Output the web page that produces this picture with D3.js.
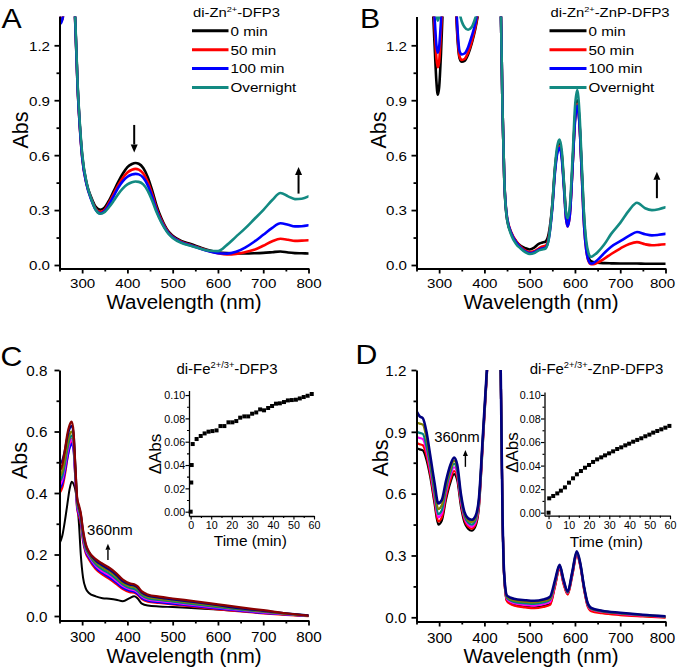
<!DOCTYPE html>
<html><head><meta charset="utf-8">
<script src="https://cdn.jsdelivr.net/npm/d3@7/dist/d3.min.js"></script>
<style>
body{margin:0;background:#fff}
svg{display:block}
text{font-family:"Liberation Sans",Arial,Helvetica,sans-serif;fill:#000}
</style></head><body>
<script>
// ---------------- DATA ----------------
// Panel A: di-Zn2+-DFP3
const aWavelength = [250,253,257,262,270,280,285,290,295,300,310,320,330,340,350,360,370,380,390,400,410,418,425,435,445,455,465,475,490,500,520,540,560,580,600,620,640,660,680,700,720,738,755,770,785,800];
const aAbs0min = [1.36,1.335,1.35,1.45,1.6,1.55,1.32,0.98,0.76,0.6,0.445,0.37,0.318,0.302,0.315,0.355,0.405,0.455,0.5,0.535,0.552,0.557,0.553,0.53,0.48,0.405,0.32,0.255,0.185,0.16,0.13,0.115,0.097,0.08,0.07,0.065,0.063,0.063,0.064,0.066,0.07,0.074,0.068,0.065,0.064,0.063];
const aAbs50min = [1.36,1.33,1.35,1.45,1.6,1.55,1.31,0.97,0.75,0.59,0.44,0.362,0.308,0.29,0.303,0.343,0.39,0.437,0.476,0.505,0.52,0.525,0.521,0.5,0.455,0.385,0.305,0.245,0.18,0.155,0.126,0.11,0.093,0.077,0.065,0.058,0.061,0.07,0.083,0.105,0.13,0.143,0.138,0.132,0.133,0.135];
const aAbs100min = [1.36,1.32,1.35,1.45,1.6,1.55,1.31,0.97,0.75,0.59,0.438,0.358,0.302,0.282,0.295,0.333,0.378,0.423,0.458,0.482,0.494,0.498,0.495,0.477,0.435,0.37,0.295,0.237,0.176,0.151,0.123,0.107,0.09,0.075,0.064,0.062,0.072,0.095,0.127,0.165,0.203,0.228,0.22,0.211,0.212,0.217];
const aAbsOvernight = [1.38,1.37,1.38,1.45,1.6,1.56,1.33,0.99,0.77,0.61,0.448,0.362,0.302,0.28,0.29,0.318,0.352,0.388,0.418,0.44,0.452,0.456,0.454,0.44,0.405,0.35,0.285,0.232,0.172,0.148,0.12,0.105,0.09,0.078,0.076,0.11,0.155,0.2,0.25,0.3,0.355,0.393,0.375,0.36,0.362,0.375];

// Panel B: di-Zn2+-ZnP-DFP3
const bWavelength = [250,270,285,290,294,297,300,304,308,315,330,337,341,345,350,356,364,372,380,388,400,420,434,437,440,444,450,460,470,480,490,500,510,520,527,535,542,550,556,561,566,571,576,580,584,589,595,600,605,610,615,620,625,630,635,640,650,665,680,700,720,737,755,770,785,800];
const bAbs0min = [1.6,1.7,1.45,1.2,1.0,0.93,0.97,1.15,1.4,1.7,1.6,1.4,1.22,1.13,1.11,1.115,1.15,1.21,1.29,1.4,1.6,1.8,1.6,1.3,0.85,0.45,0.25,0.17,0.13,0.105,0.092,0.085,0.095,0.115,0.122,0.128,0.17,0.33,0.53,0.63,0.66,0.6,0.43,0.29,0.235,0.3,0.56,0.8,0.9,0.78,0.52,0.26,0.1,0.04,0.022,0.016,0.012,0.01,0.009,0.008,0.008,0.008,0.007,0.007,0.007,0.007];
const bAbs50min = [1.6,1.7,1.5,1.3,1.13,1.08,1.11,1.27,1.45,1.7,1.6,1.42,1.24,1.14,1.12,1.125,1.16,1.22,1.3,1.41,1.6,1.8,1.6,1.3,0.85,0.46,0.26,0.175,0.13,0.1,0.08,0.07,0.075,0.09,0.1,0.105,0.15,0.32,0.52,0.62,0.65,0.59,0.42,0.26,0.21,0.28,0.55,0.79,0.88,0.77,0.5,0.22,0.08,0.02,0.005,0.005,0.013,0.035,0.06,0.09,0.115,0.125,0.113,0.108,0.11,0.113];
const bAbs100min = [1.6,1.7,1.55,1.35,1.2,1.16,1.19,1.33,1.5,1.7,1.6,1.45,1.27,1.17,1.15,1.155,1.19,1.25,1.32,1.43,1.6,1.8,1.6,1.3,0.85,0.46,0.26,0.17,0.125,0.095,0.075,0.065,0.07,0.083,0.09,0.095,0.14,0.31,0.51,0.61,0.64,0.58,0.41,0.26,0.21,0.28,0.55,0.78,0.87,0.77,0.5,0.22,0.08,0.025,0.008,0.01,0.028,0.066,0.1,0.13,0.16,0.18,0.168,0.162,0.165,0.17];
const bAbsOvernight = [1.6,1.7,1.6,1.45,1.37,1.335,1.36,1.45,1.55,1.7,1.6,1.52,1.44,1.38,1.33,1.3,1.285,1.3,1.35,1.42,1.6,1.8,1.6,1.3,0.85,0.46,0.25,0.16,0.115,0.09,0.07,0.06,0.065,0.08,0.085,0.09,0.14,0.33,0.54,0.65,0.685,0.62,0.44,0.29,0.255,0.33,0.6,0.86,0.955,0.83,0.55,0.28,0.13,0.065,0.045,0.05,0.07,0.113,0.17,0.23,0.3,0.34,0.31,0.3,0.305,0.315];

// Panel C: di-Fe2+/3+-DFP3
const cWavelength = [250,256,262,267,272,277,281,285,289,293,297,302,308,315,330,345,360,375,390,405,415,422,432,445,470,500,550,600,650,700,750,800];
const cAbsInitial = [0.236,0.26,0.31,0.36,0.41,0.437,0.43,0.41,0.37,0.3,0.2,0.125,0.09,0.075,0.064,0.058,0.056,0.053,0.048,0.058,0.064,0.058,0.04,0.034,0.031,0.029,0.025,0.021,0.016,0.011,0.005,0.0];
const cAbsRed = [0.400,0.418,0.462,0.510,0.552,0.575,0.552,0.455,0.352,0.325,0.305,0.245,0.205,0.185,0.153,0.135,0.121,0.105,0.088,0.078,0.076,0.070,0.055,0.047,0.043,0.038,0.030,0.022,0.015,0.009,0.004,0.000];
const cAbsBlue = [0.412,0.430,0.470,0.512,0.545,0.560,0.540,0.452,0.355,0.330,0.310,0.250,0.210,0.190,0.158,0.140,0.126,0.109,0.092,0.082,0.079,0.073,0.058,0.050,0.045,0.040,0.032,0.024,0.017,0.010,0.005,0.000];
const cAbsMagenta = [0.424,0.442,0.484,0.527,0.560,0.573,0.553,0.462,0.362,0.336,0.315,0.256,0.215,0.195,0.163,0.145,0.132,0.115,0.097,0.087,0.084,0.078,0.063,0.054,0.049,0.044,0.035,0.027,0.019,0.012,0.006,0.001];
const cAbsCyan = [0.436,0.454,0.496,0.540,0.573,0.587,0.567,0.470,0.368,0.342,0.320,0.262,0.220,0.200,0.168,0.151,0.138,0.121,0.102,0.091,0.088,0.082,0.067,0.057,0.052,0.047,0.038,0.029,0.021,0.014,0.007,0.001];
const cAbsOlive = [0.452,0.470,0.512,0.556,0.588,0.600,0.580,0.478,0.374,0.348,0.326,0.268,0.226,0.203,0.175,0.158,0.145,0.128,0.107,0.097,0.094,0.088,0.072,0.062,0.056,0.051,0.042,0.032,0.023,0.015,0.008,0.001];
const cAbsNavy = [0.493,0.505,0.540,0.580,0.608,0.618,0.595,0.485,0.380,0.354,0.330,0.274,0.230,0.207,0.180,0.164,0.151,0.134,0.113,0.102,0.099,0.093,0.076,0.066,0.060,0.054,0.045,0.035,0.025,0.017,0.009,0.002];
const cAbsWine = [0.470,0.490,0.540,0.590,0.620,0.632,0.600,0.490,0.385,0.360,0.335,0.280,0.235,0.210,0.185,0.170,0.157,0.140,0.118,0.106,0.103,0.097,0.080,0.070,0.063,0.057,0.048,0.038,0.028,0.019,0.009,0.001];
// Inset C kinetics at 360 nm
const cTime = [0,0.3,0.5,1.0,2.9,4.9,6.8,8.7,10.6,12.6,14.5,16.4,18.4,20.3,22.2,24.1,26.1,28.0,29.9,31.9,33.8,35.7,37.7,39.6,41.5,43.4,45.4,47.3,49.2,51.2,53.1,55.0,56.9,58.9];
const cDeltaAbs = [0.000,0.025,0.040,0.058,0.0623,0.0649,0.0671,0.0686,0.0691,0.0697,0.0734,0.0734,0.0766,0.0766,0.0777,0.0806,0.0817,0.0817,0.084,0.0851,0.0877,0.0869,0.0889,0.0906,0.0926,0.0929,0.094,0.0954,0.0957,0.096,0.0971,0.0983,0.0994,0.1009];

// Panel D: di-Fe2+/3+-ZnP-DFP3
const dWavelength = [250,257,264,272,280,290,298,306,315,325,333,340,348,356,364,372,380,388,396,404,420,432,436,440,444,450,465,490,510,530,545,556,566,575,584,594,604,612,620,628,636,660,700,750,800];
const dAbsBlack = [0.82,0.815,0.81,0.765,0.685,0.55,0.45,0.47,0.57,0.655,0.695,0.665,0.54,0.46,0.43,0.42,0.44,0.535,0.82,1.12,1.6,1.6,1.2,0.5,0.18,0.08,0.06,0.052,0.048,0.055,0.065,0.155,0.24,0.165,0.115,0.205,0.305,0.25,0.14,0.058,0.035,0.024,0.014,0.007,0.001];
const dAbsRed = [0.845,0.84,0.835,0.785,0.7,0.565,0.465,0.485,0.585,0.67,0.71,0.68,0.555,0.472,0.44,0.43,0.45,0.545,0.83,1.13,1.6,1.6,1.2,0.5,0.18,0.078,0.057,0.048,0.044,0.05,0.06,0.15,0.236,0.16,0.11,0.2,0.3,0.245,0.135,0.053,0.03,0.02,0.011,0.004,-0.002];
const dAbsMagenta = [0.875,0.87,0.865,0.81,0.72,0.585,0.485,0.505,0.605,0.69,0.728,0.697,0.567,0.483,0.45,0.44,0.46,0.555,0.84,1.135,1.6,1.6,1.2,0.5,0.19,0.088,0.068,0.06,0.057,0.064,0.075,0.162,0.245,0.17,0.118,0.21,0.31,0.253,0.143,0.062,0.038,0.027,0.017,0.009,0.002];
const dAbsCyan = [0.9,0.895,0.89,0.83,0.74,0.6,0.5,0.52,0.62,0.705,0.745,0.71,0.578,0.492,0.46,0.45,0.47,0.565,0.85,1.14,1.6,1.6,1.2,0.5,0.19,0.094,0.075,0.068,0.065,0.072,0.085,0.168,0.25,0.175,0.12,0.215,0.314,0.256,0.146,0.065,0.04,0.029,0.019,0.01,0.003];
const dAbsOlive = [0.945,0.94,0.935,0.87,0.765,0.625,0.525,0.545,0.64,0.72,0.76,0.725,0.59,0.5,0.47,0.462,0.48,0.572,0.855,1.145,1.6,1.6,1.2,0.5,0.195,0.1,0.082,0.075,0.072,0.079,0.09,0.172,0.252,0.178,0.122,0.218,0.317,0.258,0.148,0.067,0.042,0.03,0.02,0.011,0.004];
const dAbsNavy = [1.0,0.975,0.966,0.9,0.79,0.65,0.553,0.57,0.66,0.74,0.775,0.74,0.6,0.51,0.48,0.473,0.49,0.58,0.86,1.15,1.6,1.6,1.2,0.5,0.2,0.105,0.09,0.083,0.08,0.086,0.1,0.18,0.255,0.18,0.125,0.22,0.32,0.26,0.15,0.07,0.045,0.032,0.022,0.012,0.005];
// Inset D kinetics at 360 nm
const dTime = [0,0.33,2.3,4.3,6.1,8.1,10.1,12.1,14.0,16.0,18.0,20.0,22.0,24.0,26.0,27.9,29.9,31.9,33.9,35.9,37.9,39.8,41.8,43.8,45.8,47.8,49.8,51.7,53.7,55.7,57.7,59.7];
const dDeltaAbs = [0.000,0.0122,0.0142,0.0164,0.0187,0.0215,0.0255,0.0292,0.0326,0.0354,0.0382,0.0405,0.0431,0.0453,0.047,0.0487,0.0504,0.0521,0.0541,0.0555,0.0572,0.0586,0.0603,0.0618,0.0632,0.0649,0.0663,0.068,0.0694,0.0708,0.0722,0.0737];

// Axis ticks
const wlMajor = [300,400,500,600,700,800];
const wlMinor = [250,350,450,550,650,750];
const absTicksAB = [0,0.3,0.6,0.9,1.2];
const absMinorAB = [0.15,0.45,0.75,1.05];
const absTicksC = [0,0.2,0.4,0.6,0.8];
const absMinorC = [0.1,0.3,0.5,0.7];
const absTicksD = [0,0.3,0.6,0.9,1.2];
const absMinorD = [0.15,0.45,0.75,1.05];
const timeTicks = [0,10,20,30,40,50,60];
const timeMinor = [5,15,25,35,45,55];
const dAbsTicks = [0,0.02,0.04,0.06,0.08,0.10];
const dAbsMinor = [0.01,0.03,0.05,0.07,0.09];
const legendLabels = ["0 min","50 min","100 min","Overnight"];
const legendColors = ["#000000","#ff0000","#0000ff","#138a82"];

// ---------------- DRAWING ----------------
const svg = d3.select("body").append("svg").attr("width",677).attr("height",668);

function txt(g, x, y, parts, size, o={}){
  const t = g.append("text")
    .attr("transform", `translate(${x},${y})` + (o.rot?` rotate(${o.rot})`:"") + ` scale(${o.sx||1},1)`)
    .attr("font-size", size).attr("text-anchor", o.anchor||"start");
  if(typeof parts === "string") parts=[[parts]];
  let shifted=false;
  parts.forEach(p=>{
    const ts=t.append("tspan").text(p[0]);
    if(p[1]==="sup"){ ts.attr("font-size", size*0.62); if(!shifted){ts.attr("dy", -size*0.4); shifted=true;} }
    else if(shifted){ ts.attr("dy", size*0.4); shifted=false; }
  });
  return t;
}

function axes(g, x, y, L, o){
  const xa = g.append("g").attr("transform",`translate(0,${L.bottom})`);
  xa.call(d3.axisBottom(x).tickValues(o.xMajor).tickSize(o.tMaj).tickSizeOuter(0).tickFormat(o.xFmt));
  xa.append("g").call(d3.axisBottom(x).tickValues(o.xMinor).tickSize(o.tMin).tickSizeOuter(0).tickFormat(""))
    .call(s=>s.select(".domain").remove());
  xa.selectAll(".tick text").attr("y",0).attr("dy",0).attr("font-size",o.fs)
    .attr("transform",d=>`translate(${(o.lastShift&&d===o.xMajor[o.xMajor.length-1])?o.lastShift:0},${o.xOff}) scale(${o.sx},1)`);
  const ya = g.append("g").attr("transform",`translate(${L.left},0)`);
  ya.call(d3.axisLeft(y).tickValues(o.yMajor).tickSize(o.tMaj).tickSizeOuter(0).tickFormat(o.yFmt));
  ya.append("g").call(d3.axisLeft(y).tickValues(o.yMinor).tickSize(o.tMin).tickSizeOuter(0).tickFormat(""))
    .call(s=>s.select(".domain").remove());
  ya.selectAll(".tick text").attr("x",0).attr("dy","0.36em").attr("font-size",o.fs)
    .attr("transform",`translate(${-o.yOff},0) scale(${o.sx},1)`);
  [xa,ya].forEach(a=>{
    a.selectAll(".domain").attr("stroke","#000").attr("stroke-width",o.sw);
    a.selectAll(".tick line").attr("stroke","#000").attr("stroke-width",o.sw*0.9);
    a.attr("font-family",null);
  });
}

function arrow(g, x1,y1,x2,y2, w, hl, hw){
  const dx=x2-x1, dy=y2-y1, len=Math.hypot(dx,dy), ux=dx/len, uy=dy/len;
  const bx=x2-ux*hl, by=y2-uy*hl;
  g.append("line").attr("x1",x1).attr("y1",y1).attr("x2",bx).attr("y2",by).attr("stroke","#000").attr("stroke-width",w);
  g.append("path").attr("d",`M${x2},${y2}L${bx-uy*hw/2},${by+ux*hw/2}L${bx+uy*hw/2},${by-ux*hw/2}Z`).attr("fill","#000");
}

function spectrum(key, L, yDomain, wl, series, o){
  const x = d3.scaleLinear().domain([250,800]).range([L.left,L.right]);
  const y = d3.scaleLinear().domain(yDomain).range([L.bottom,L.top]);
  svg.append("clipPath").attr("id","clip"+key).append("rect")
    .attr("x",L.left).attr("y",L.top).attr("width",L.right-L.left).attr("height",L.bottom-L.top);
  const g = svg.append("g");
  const pg = g.append("g").attr("clip-path",`url(#clip${key})`);
  const line = d3.line().x((d,i)=>x(wl[i])).y(d=>y(d)).curve(d3.curveMonotoneX);
  series.forEach(s=>pg.append("path").attr("d",line(s.v)).attr("fill","none")
    .attr("stroke",s.c).attr("stroke-width",s.w).attr("stroke-linejoin","round").attr("stroke-linecap","round"));
  axes(g,x,y,L,o);
  return {g,x,y};
}

function kinetics(key, L, xDomain, yDomain, t, v){
  const x = d3.scaleLinear().domain(xDomain).range([L.left,L.right]);
  const y = d3.scaleLinear().domain(yDomain).range([L.bottom,L.top]);
  const g = svg.append("g");
  g.selectAll("rect.pt").data(v).join("rect").attr("class","pt")
    .attr("x",(d,i)=>x(t[i])-2).attr("y",d=>y(d)-2).attr("width",4).attr("height",4).attr("fill","#000");
  axes(g,x,y,L,{xMajor:timeTicks,xMinor:timeMinor,yMajor:dAbsTicks,yMinor:dAbsMinor,tMaj:3.5,tMin:2,
    xFmt:d3.format("d"),yFmt:d3.format(".2f"),fs:10.5,sx:1.02,xOff:13,yOff:3.8,sw:1.3});
  return {g,x,y};
}

const axAB = {xMajor:wlMajor,xMinor:wlMinor,yMajor:absTicksAB,yMinor:absMinorAB,tMaj:5,tMin:3,
  xFmt:d3.format("d"),yFmt:d3.format(".1f"),fs:13.5,sx:1.12,xOff:19,yOff:9.5,sw:2};

// ---- Panel A ----
const LA={left:59.5,right:308.5,top:16.5,bottom:268.5};
const pA = spectrum("A", LA, [-0.0191,1.3573], aWavelength, [
  {v:aAbs0min,c:legendColors[0],w:2.6},{v:aAbs50min,c:legendColors[1],w:2.6},
  {v:aAbs100min,c:legendColors[2],w:2.6},{v:aAbsOvernight,c:legendColors[3],w:2.6}], axAB);
arrow(pA.g, pA.x(415), pA.y(0.765), pA.x(415), pA.y(0.615), 2, 8, 7);
arrow(pA.g, pA.x(778), pA.y(0.39), pA.x(778), pA.y(0.535), 2, 8, 7);

// ---- Panel B ----
const LB={left:416.5,right:665.5,top:16.5,bottom:268.5};
const pB = spectrum("B", LB, [-0.0191,1.3573], bWavelength, [
  {v:bAbs0min,c:legendColors[0],w:2.6},{v:bAbs50min,c:legendColors[1],w:2.6},
  {v:bAbs100min,c:legendColors[2],w:2.6},{v:bAbsOvernight,c:legendColors[3],w:2.6}],
  Object.assign({},axAB,{lastShift:-3.5}));
arrow(pB.g, pB.x(781), pB.y(0.365), pB.x(781), pB.y(0.51), 2, 8, 7);

// legends
function legend(x0, x1, title){
  const g=svg.append("g");
  txt(g, x0+1, 16.7, title, 13, {sx:1.14});
  legendLabels.forEach((lab,i)=>{
    const yy=30.8+i*18.9;
    g.append("line").attr("x1",x0).attr("x2",x1).attr("y1",yy).attr("y2",yy).attr("stroke",legendColors[i]).attr("stroke-width",3);
    txt(g, x1+2, yy+4.8, lab, 13, {sx:1.17});
  });
}
legend(192, 228.5, [["di-Zn"],["2+","sup"],["-DFP3"]]);
legend(549.5, 586.5, [["di-Zn"],["2+","sup"],["-ZnP-DFP3"]]);

// ---- Panel C ----
const axC = Object.assign({},axAB,{yMajor:absTicksC,yMinor:absMinorC,fs:14.5,sx:1.05,xOff:21,yOff:12});
const LC={left:59.5,right:308.5,top:370,bottom:620.5};
const pC = spectrum("C", LC, [-0.0146,0.8], cWavelength, [
  {v:cAbsInitial,c:"#000000",w:2},
  {v:cAbsRed,c:"#ff0000",w:2.4},{v:cAbsBlue,c:"#0000ff",w:2.2},{v:cAbsMagenta,c:"#ff00ff",w:2.2},
  {v:cAbsCyan,c:"#008080",w:2.2},{v:cAbsOlive,c:"#808000",w:2.2},{v:cAbsNavy,c:"#000080",w:2.2},
  {v:cAbsWine,c:"#8b0000",w:2.2}], axC);
arrow(pC.g, pC.x(357), pC.y(0.182), pC.x(357), pC.y(0.235), 1.4, 6, 5);
txt(pC.g, pC.x(311), pC.y(0.263), "360nm", 14.5, {sx:1.03});

// ---- Panel D ----
const axD = Object.assign({},axAB,{yMajor:absTicksD,yMinor:absMinorD,fs:14.5,sx:1.05,xOff:21,yOff:10,lastShift:-3.5});
const LD={left:416.5,right:665.5,top:370,bottom:621.5};
const pD = spectrum("D", LD, [-0.0204,1.2], dWavelength, [
  {v:dAbsBlack,c:"#000000",w:2.2},{v:dAbsRed,c:"#ff0000",w:2.2},{v:dAbsMagenta,c:"#ff00ff",w:2.2},
  {v:dAbsCyan,c:"#008080",w:2.2},{v:dAbsOlive,c:"#808000",w:2.2},{v:dAbsNavy,c:"#000080",w:2.6}], axD);
arrow(pD.g, pD.x(358), pD.y(0.73), pD.x(358), pD.y(0.812), 1.4, 6, 5);
txt(pD.g, pD.x(289), pD.y(0.851), "360nm", 14.5, {sx:1.03});

// ---- Insets ----
kinetics("Ci", {left:189,right:314,top:390.5,bottom:516}, [-0.8,60], [-0.0037,0.1039], cTime, cDeltaAbs);
kinetics("Di", {left:544.5,right:670,top:392,bottom:515.7}, [-2,60], [-0.00255,0.1025], dTime, dDeltaAbs);

// ---- Titles / labels ----
const T = svg.append("g");
txt(T, 1.5, 28.3, "A", 28, {sx:1.08});
txt(T, 360, 28.3, "B", 28, {sx:1.08});
txt(T, 0.5, 365.5, "C", 28, {sx:1.08});
txt(T, 355.5, 364, "D", 28, {sx:1.08});
[[184,308.5],[541,308.5],[184,663.3],[541,663.3]].forEach(p=>txt(T,p[0],p[1],"Wavelength (nm)",19.5,{sx:1.05,anchor:"middle"}));
[[27.5,130],[386,130],[27,460.5],[388,458]].forEach(p=>txt(T,p[0],p[1],"Abs",21.5,{rot:-90,anchor:"middle"}));
txt(T, 227, 373.5, [["di-Fe"],["2+/3+","sup"],["-DFP3"]], 14, {sx:1.07,anchor:"middle"});
txt(T, 596.5, 373.5, [["di-Fe"],["2+/3+","sup"],["-ZnP-DFP3"]], 14, {sx:1.07,anchor:"middle"});
txt(T, 161, 454, "ΔAbs", 17, {rot:-90,anchor:"middle"});
txt(T, 518, 452.5, "ΔAbs", 17, {rot:-90,anchor:"middle"});
txt(T, 250.3, 546, "Time (min)", 14, {sx:1.1,anchor:"middle"});
txt(T, 606.3, 546.5, "Time (min)", 14, {sx:1.1,anchor:"middle"});
</script></body></html>
